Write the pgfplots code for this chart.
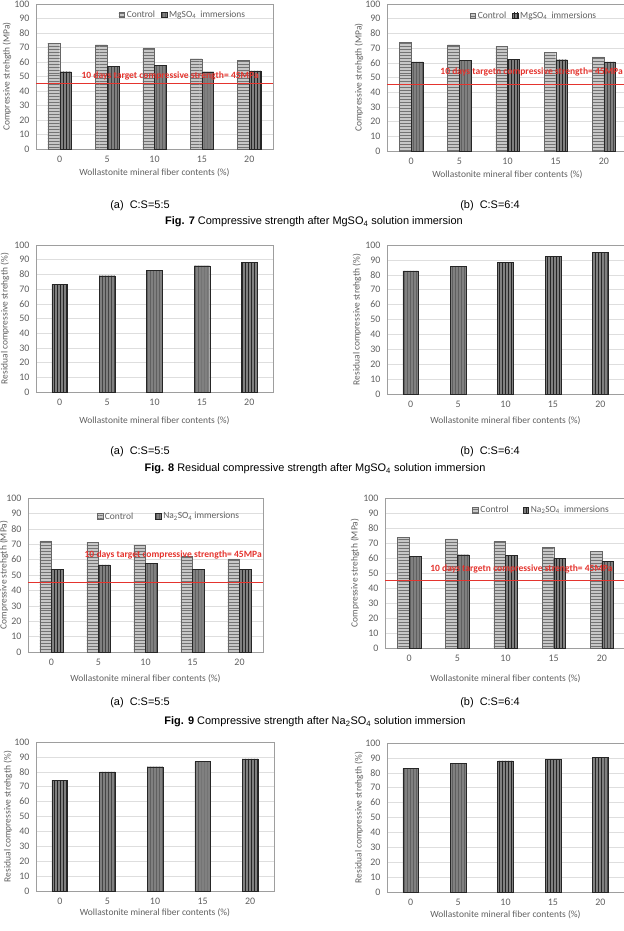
\documentclass[border=0pt]{standalone}
\usepackage{pgfplots}
\pgfplotsset{compat=1.18}
\usepackage{fontspec}
\setmainfont{Carlito}
\newfontfamily\capfont{Liberation Sans}
\usetikzlibrary{patterns}
\definecolor{tred}{RGB}{228,52,46}
\definecolor{tgray}{RGB}{96,96,96}
\pgfplotsset{
  panel/.style={
    scale only axis, anchor=south west,
    ybar=0pt,
    xmin=-0.5, xmax=4.5, ymin=0, ymax=100,
    enlargelimits=false, clip=false,
    xtick={0,1,2,3,4}, xticklabels={0,5,10,15,20},
    ytick={0,10,...,100},
    major tick length=0pt,
    axis line style={draw=black!38},
    ymajorgrids, grid style={draw=black!13, line width=0.5pt},
    /pgf/number format/assume math mode=true,
    tick label style={font=\fontsize{10}{11}\selectfont, text=tgray},
    yticklabel style={xshift=-3bp},
    xticklabel style={yshift=-4bp},
    label style={font=\fontsize{9.5}{10}\selectfont, text=tgray},
    xlabel={Wollastonite mineral fiber contents (\%)},
    legend style={draw=none, fill=none, font=\fontsize{9.5}{10}\selectfont, text=tgray, legend columns=2, anchor=center, inner sep=0pt},
    legend image code/.code={\draw[##1] (0bp,-2.8bp) rectangle (5.6bp,2.8bp);},
  },
  xl/.style={xlabel style={at={([yshift=-#1bp]axis description cs:0.5,0)}, anchor=center}},
  yl/.style={ylabel style={at={([xshift=-#1bp]axis description cs:0,0.5)}, anchor=center}},
  ctrl/.style={draw=black!60, fill=black!22, bar width=11.7bp, bar shift=-5.85bp, postaction={pattern=horizontal lines, pattern color=black!55}},
  imm/.style={draw=black!85, fill=black!50, bar width=11.7bp, bar shift=5.85bp, postaction={pattern=vertical lines, pattern color=black!85}},
  res/.style={draw=black!85, fill=black!50, bar width=15.7bp, bar shift=0pt, postaction={pattern=vertical lines, pattern color=black!85}},
  tline/.style={tred, line width=1.2pt, sharp plot, forget plot},
}
\newcommand{\tlabel}{\bfseries\fontsize{9.6}{10}\selectfont}
\newcommand{\capsize}{\capfont\fontsize{11}{13}\selectfont}
\begin{document}
\begin{tikzpicture}
\useasboundingbox (0bp,0bp) rectangle (624bp,-931bp);

% ---------- Fig 7 (a)
\begin{axis}[panel, at={(36bp,-149bp)}, width=237bp, height=145bp, yl=29, xl=24,
  ylabel={Compressive strehgth (MPa)},
  legend style={at={(0.62,0.925)}, /tikz/every even column/.append style={column sep=4bp}}]
\addplot[ctrl] coordinates {(0,73) (1,71.9) (2,69.8) (3,62.2) (4,60.9)};
\addplot[imm] coordinates {(0,53.3) (1,56.8) (2,57.7) (3,53.3) (4,53.8)};
\legend{Control, MgSO\textsubscript{4}\ \ immersions}
\addplot[tline] coordinates {(-0.5,45) (4.5,45)};
\node[font=\tlabel, text=tred] at (axis cs:2.33,50.7) {10 days target compressive strength= 45MPa};
\end{axis}

% ---------- Fig 7 (b)
\begin{axis}[panel, at={(387bp,-151bp)}, width=241bp, height=147bp, yl=28, xl=24,
  ylabel={Compressive strehgth (MPa)},
  legend style={at={(0.61,0.92)}, /tikz/every even column/.append style={column sep=4bp}}]
\addplot[ctrl] coordinates {(0,73.7) (1,72.3) (2,71) (3,67.2) (4,64.1)};
\addplot[imm] coordinates {(0,60.7) (1,61.6) (2,62.5) (3,62.1) (4,60.7)};
\legend{Control, MgSO\textsubscript{4}\ \ immersions}
\addplot[tline] coordinates {(-0.5,45) (4.5,45)};
\node[font=\tlabel, text=tred] at (axis cs:2.5,53.7) {10 days targetn compressive strength= 45MPa};
\end{axis}

\node[font=\capsize] at (140bp,-206bp) {(a)\ \ C:S=5:5};
\node[font=\capsize] at (490bp,-206bp) {(b)\ \ C:S=6:4};
\node[font=\capsize] at (314bp,-222bp) {\textbf{Fig. 7} Compressive strength after MgSO\textsubscript{4} solution immersion};

% ---------- Fig 8 (a)
\begin{axis}[panel, at={(36bp,-392bp)}, width=237bp, height=147bp, yl=31, xl=29,
  ylabel={Residual compressive strehgth (\%)}]
\addplot[res] coordinates {(0,73.2) (1,79.1) (2,82.8) (3,85.9) (4,88.2)};
\end{axis}

% ---------- Fig 8 (b)
\begin{axis}[panel, at={(387bp,-394bp)}, width=237bp, height=149bp, yl=30, xl=27,
  ylabel={Residual compressive strehgth (\%)}]
\addplot[res] coordinates {(0,82.6) (1,85.5) (2,88.4) (3,92.2) (4,94.9)};
\end{axis}

\node[font=\capsize] at (140bp,-452bp) {(a)\ \ C:S=5:5};
\node[font=\capsize] at (490bp,-452bp) {(b)\ \ C:S=6:4};
\node[font=\capsize] at (315bp,-469bp) {\textbf{Fig. 8} Residual compressive strength after MgSO\textsubscript{4} solution immersion};

% ---------- Fig 9 (a)
\begin{axis}[panel, at={(28bp,-652bp)}, width=235bp, height=154bp, yl=24, xl=27,
  ylabel={Compressive strehgth (MPa)},
  legend style={at={(0.6,0.88)}, /tikz/every even column/.append style={column sep=20bp}}]
\addplot[ctrl] coordinates {(0,72.2) (1,71.1) (2,69.4) (3,62) (4,60.5)};
\addplot[imm] coordinates {(0,53.8) (1,56.6) (2,57.7) (3,53.8) (4,53.8)};
\legend{Control, Na\textsubscript{2}SO\textsubscript{4} immersions}
\addplot[tline] coordinates {(-0.5,45) (4.5,45)};
\node[font=\tlabel, text=tred] at (axis cs:2.59,63) {10 days target compressive strength= 45MPa};
\end{axis}

% ---------- Fig 9 (b)
\begin{axis}[panel, at={(385bp,-648bp)}, width=241bp, height=150bp, yl=30, xl=31,
  ylabel={Compressive strehgth (MPa)},
  legend style={at={(0.65,0.92)}, /tikz/every even column/.append style={column sep=12bp}}]
\addplot[ctrl] coordinates {(0,74) (1,72.7) (2,71.1) (3,67.3) (4,64.4)};
\addplot[imm] coordinates {(0,61.1) (1,62.2) (2,62) (3,59.8) (4,57.8)};
\legend{Control, Na\textsubscript{2}SO\textsubscript{4}\ \ immersions}
\addplot[tline] coordinates {(-0.5,45) (4.5,45)};
\node[font=\tlabel, text=tred] at (axis cs:2.33,52.7) {10 days targetn compressive strength= 45MPa};
\end{axis}

\node[font=\capsize] at (140bp,-703bp) {(a)\ \ C:S=5:5};
\node[font=\capsize] at (490bp,-703bp) {(b)\ \ C:S=6:4};
\node[font=\capsize] at (315bp,-722bp) {\textbf{Fig. 9} Compressive strength after Na\textsubscript{2}SO\textsubscript{4} solution immersion};

% ---------- Fig 10 (a)
\begin{axis}[panel, at={(36bp,-891bp)}, width=238bp, height=149bp, yl=28, xl=22,
  ylabel={Residual compressive strehgth (\%)}]
\addplot[res] coordinates {(0,74.4) (1,80) (2,83.4) (3,86.8) (4,88.6)};
\end{axis}

% ---------- Fig 10 (b)
\begin{axis}[panel, at={(387bp,-892bp)}, width=237bp, height=149bp, yl=28, xl=23,
  ylabel={Residual compressive strehgth (\%)}]
\addplot[res] coordinates {(0,82.9) (1,86.2) (2,88) (3,88.9) (4,90.4)};
\end{axis}
\end{tikzpicture}
\end{document}
